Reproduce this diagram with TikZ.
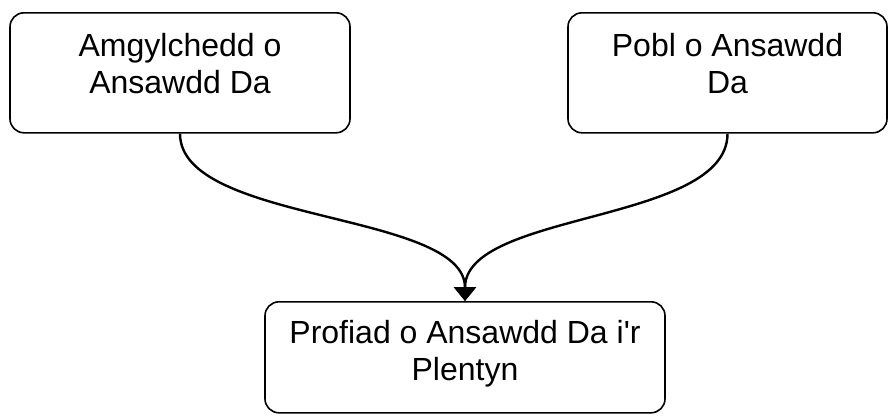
\documentclass[tikz,border=0pt]{standalone}
\usepackage{fontspec}
\setmainfont{Liberation Sans}
\usepackage{tikz}
\usetikzlibrary{arrows.meta}

\begin{document}
\begin{tikzpicture}[x=1pt,y=-1pt,
        box/.style={draw, line width=1.6pt, rounded corners=14pt, anchor=north,
            align=center, font=\fontsize{32}{37}\selectfont, inner xsep=0pt, inner ysep=10pt},
        flow/.style={line width=2.4pt, -{Triangle[width=22pt,length=14pt]}}]
        \useasboundingbox (0,0) rectangle (888,416);
        \node [box, minimum width=340pt, text height=71pt, text depth=29pt] (env) at (180,12) {Amgylchedd o\\Ansawdd Da};
        \node [box, minimum width=319pt, text height=71pt, text depth=29pt] (people) at (727.5,12) {Pobl o Ansawdd\\Da};
        \node [box, minimum width=400pt, text height=69pt, text depth=22pt] (child) at (465,301) {Profiad o Ansawdd Da i\textquotesingle r\\Plentyn};
        \draw [flow] (env.south) .. controls +(0,90) and +(0,-90) .. (child.north);
        \draw [flow] (people.south) .. controls +(0,90) and +(0,-90) .. (child.north);
    \end{tikzpicture}
\end{document}
